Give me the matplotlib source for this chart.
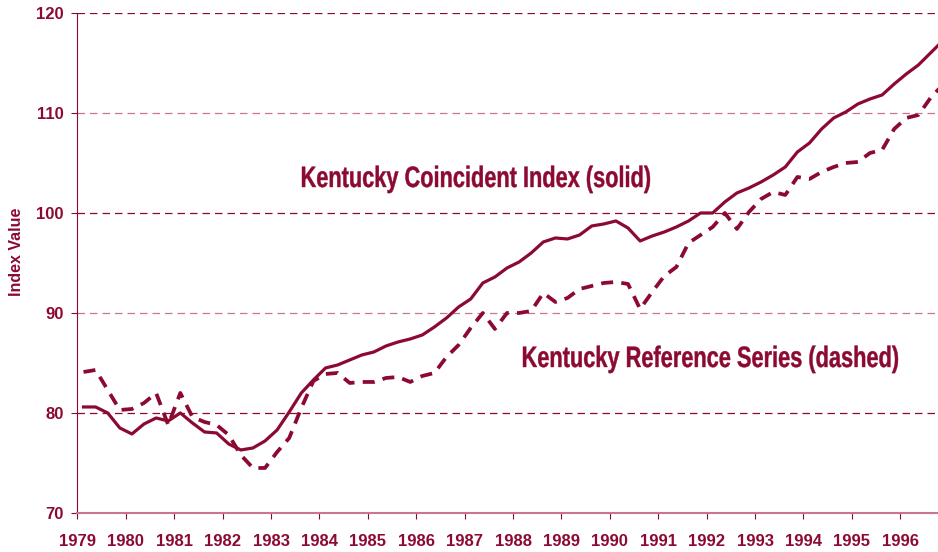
import numpy as np
import matplotlib
matplotlib.use("Agg")
import matplotlib.pyplot as plt
from matplotlib.textpath import TextPath
from matplotlib.patches import PathPatch
from matplotlib.font_manager import FontProperties
from matplotlib.transforms import Affine2D

# quarterly values, 1979Q1 onwards
coincident = [80.6, 80.6, 80.0, 78.5, 77.9, 78.9, 79.5, 79.2, 80.0, 79.0,
              78.1, 78.0, 76.9, 76.3, 76.5, 77.2, 78.3, 80.1, 82.0, 83.3,
              84.5, 84.8, 85.3, 85.8, 86.1, 86.7, 87.1, 87.4, 87.8, 88.6,
              89.5, 90.6, 91.4, 93.0, 93.6, 94.5, 95.1, 96.0, 97.1, 97.5,
              97.4, 97.8, 98.7, 98.9, 99.2, 98.5, 97.2, 97.7, 98.1, 98.6,
              99.2, 100.0, 100.0, 101.1, 102.0, 102.5, 103.1, 103.8, 104.6, 106.1,
              107.0, 108.4, 109.5, 110.1, 110.9, 111.4, 111.8, 112.9, 113.9, 114.8,
              116.0, 117.2]
reference = [84.1, 84.3, 82.3, 80.3, 80.4, 81.0, 82.0, 78.8, 82.0, 79.6,
             79.1, 78.8, 77.8, 75.8, 74.5, 74.5, 76.1, 77.5, 80.5, 83.2,
             83.9, 84.0, 83.0, 83.1, 83.1, 83.5, 83.6, 83.1, 83.7, 84.0,
             85.6, 86.8, 88.5, 90.0, 88.4, 90.0, 90.0, 90.2, 92.0, 91.1,
             91.5, 92.4, 92.7, 93.0, 93.1, 92.9, 90.4, 92.1, 93.7, 94.6,
             97.0, 97.8, 98.6, 100.0, 98.4, 100.1, 101.4, 102.1, 101.8, 103.6,
             103.4, 104.1, 104.6, 105.0, 105.1, 106.0, 106.3, 108.4, 109.5, 109.8,
             111.5, 112.8]
years = list(range(1979, 1997))
yticks = [70, 80, 90, 100, 110, 120]

t = 1979.125 + 0.25 * np.arange(len(coincident))

red = "#8c0a32"
pink = "#c8758d"
W, H = 938, 552

fig = plt.figure(figsize=(W / 100, H / 100), dpi=100)
ax = fig.add_axes([0.0826, 0.0707, 0.9174, 0.9058])

for y in [80, 90, 100, 110, 120]:
    c = red if y % 20 == 0 else pink
    ax.axhline(y, color=c, lw=0.9, ls=(0, (6, 4)), zorder=1)

ax.plot(t, coincident, color=red, lw=2.3, zorder=3, solid_joinstyle="round")
ax.plot(t, reference, color=red, lw=2.7, ls=(0, (3.2, 2.2)), zorder=3)

ax.set_xlim(1979, 1996.78)
ax.set_ylim(70, 120)
ax.set_xticks(years)
ax.set_yticks(yticks)
ax.tick_params(axis="both", colors=red, labelsize=12, direction="out", length=4)
ax.tick_params(axis="x", pad=11)
ax.tick_params(axis="y", pad=6)
for lab in ax.get_xticklabels() + ax.get_yticklabels():
    lab.set_fontweight("bold")
    lab.set_family("Liberation Sans")

for s in ["top", "right"]:
    ax.spines[s].set_visible(False)
ax.spines["left"].set_color(red)
ax.spines["bottom"].set_color(pink)
ax.spines["bottom"].set_linewidth(1.5)

fig.text(17 / W, 1 - 252 / H, "Index Value", color=red, fontsize=11.5,
         fontweight="bold", family="Liberation Sans", rotation=90,
         ha="center", va="center")


def narrow_label(s, left, baseline, width, cap):
    # condensed bold text, placed in pixel units from the top-left corner
    fp = FontProperties(family="Liberation Sans", weight="bold")
    tp = TextPath((0, 0), s, size=cap / 0.729, prop=fp)
    bb = tp.get_extents()
    tr = (Affine2D().translate(-bb.x0, 0).scale(width / bb.width, 1)
          .translate(left, H - baseline).scale(1 / W, 1 / H) + fig.transFigure)
    fig.add_artist(PathPatch(tp, transform=tr, facecolor=red, edgecolor=red,
                             lw=0.3))


narrow_label("Kentucky Coincident Index (solid)", 302, 187, 348, 21.5)
narrow_label("Kentucky Reference Series (dashed)", 523, 367, 375, 21.5)

fig.savefig("out.png", dpi=100)
